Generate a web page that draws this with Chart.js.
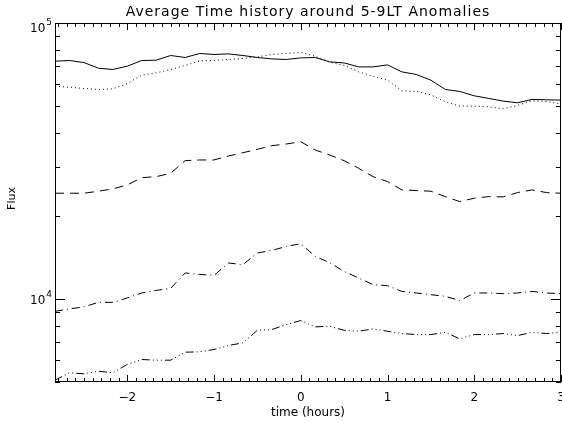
<!DOCTYPE html>
<html>
<head>
<meta charset="utf-8">
<script src="https://cdn.jsdelivr.net/npm/chart.js@4/dist/chart.umd.min.js"></script>
<style>
    html, body { margin: 0; padding: 0; background: #fff; }
    canvas { display: block; }
</style>
</head>
<body>
<canvas id="chartFlux" width="562" height="424"></canvas>
<script>
// time axis (hours, 10 minute steps)
var hours = [-2.833, -2.667, -2.5, -2.333, -2.167, -2, -1.833, -1.667, -1.5, -1.333, -1.167, -1,
    -0.833, -0.667, -0.5, -0.333, -0.167, 0, 0.167, 0.333, 0.5, 0.667, 0.833, 1,
    1.167, 1.333, 1.5, 1.667, 1.833, 2, 2.167, 2.333, 2.5, 2.667, 2.833, 3];

var fluxSolid = [72700, 73130, 71910, 68580, 67840, 69740, 73130, 73310, 76240, 74990, 77530, 76900,
    77270, 76240, 74990, 74100, 73750, 74750, 74990, 72280, 71680, 69330, 69330, 70500,
    66490, 65070, 62050, 57420, 56490, 54460, 53300, 52110, 51390, 52860, 52680, 52550];

var fluxDotted = [59020, 58530, 57900, 57420, 57710, 60370, 64700, 65950, 67840, 70150, 72890, 73130,
    73750, 74370, 75370, 76900, 77530, 78170, 75800, 72100, 70150, 66490, 64170, 62050,
    56770, 56490, 54910, 51810, 49980, 49980, 49700, 48880, 50280, 52240, 51980, 50830];

var fluxDashed = [24160, 24160, 24160, 24570, 25050, 25890, 27510, 27740, 28540, 31700, 31890, 31890,
    32970, 33880, 34850, 35920, 36430, 37140, 34650, 33240, 31700, 29760, 27740, 26620,
    24840, 24700, 24570, 23490, 22530, 23180, 23490, 23430, 24290, 24840, 24290, 24160];

var fluxDashDot = [9020, 9200, 9360, 9720, 9720, 10080, 10510, 10740, 10920, 12420, 12270, 12170,
    13500, 13310, 14670, 14990, 15500, 15850, 14260, 13530, 12580, 11910, 11270, 11170,
    10650, 10510, 10360, 10220, 9860, 10510, 10510, 10450, 10510, 10650, 10510, 10450];

var fluxDashDot3 = [5077, 5401, 5355, 5472, 5401, 5787, 6033, 5998, 5998, 6411, 6433, 6557,
    6779, 6933, 7700, 7745, 8075, 8350, 7921, 7960, 7700, 7636, 7789, 7636,
    7490, 7427, 7427, 7570, 7169, 7427, 7427, 7490, 7365, 7570, 7490, 7570];

var xTickValues = [-2, -1, 0, 1, 2, 3];
var xTickLabels = ['\u22122', '\u22121', '0', '1', '2', '3'];
var yTickValues = [10000, 100000];
var yTickExps = ['4', '5'];

var titleText = 'Average Time history around 5-9LT Anomalies';
var xTitle = 'time (hours)';
var yTitle = 'Flux';

function toPoints(values) {
    var pts = [];
    for (var i = 0; i < hours.length; i++) {
        pts.push({x: hours[i], y: values[i]});
    }
    return pts;
}

function lineSet(values, dash) {
    return {
        data: toPoints(values),
        borderColor: '#000',
        borderWidth: 1,
        borderDash: dash,
        pointRadius: 0,
        tension: 0,
        fill: false
    };
}

// IDL style frame: inward ticks on all four sides, labels drawn by hand
var idlAxes = {
    id: 'idlAxes',
    afterDraw: function (chart) {
        var ctx = chart.ctx;
        var a = chart.chartArea;
        var xs = chart.scales.x;
        var ys = chart.scales.y;
        var i, px, py, len;

        ctx.save();
        ctx.strokeStyle = '#000';
        ctx.lineWidth = 1;
        ctx.strokeRect(a.left + 0.5, a.top + 0.5, a.right - a.left - 1, a.bottom - a.top - 1);

        ctx.beginPath();
        for (i = -28; i <= 30; i++) {
            px = Math.round(xs.getPixelForValue(i / 10)) + 0.5;
            len = (i % 10 === 0) ? 7 : 4;
            ctx.moveTo(px, a.bottom);
            ctx.lineTo(px, a.bottom - len);
            ctx.moveTo(px, a.top);
            ctx.lineTo(px, a.top + len);
        }
        for (var dec = 1000; dec <= 100000; dec *= 10) {
            for (var m = 1; m <= 9; m++) {
                var v = dec * m;
                if (v < ys.min || v > ys.max) continue;
                py = Math.round(ys.getPixelForValue(v)) + 0.5;
                len = (m === 1) ? 10 : 5;
                ctx.moveTo(a.left, py);
                ctx.lineTo(a.left + len, py);
                ctx.moveTo(a.right, py);
                ctx.lineTo(a.right - len, py);
            }
        }
        ctx.stroke();

        ctx.fillStyle = '#000';
        ctx.font = '12px "DejaVu Sans"';
        ctx.textAlign = 'center';
        ctx.textBaseline = 'alphabetic';
        for (i = 0; i < xTickValues.length; i++) {
            px = xs.getPixelForValue(xTickValues[i]);
            ctx.fillText(xTickLabels[i], px, a.bottom + 19);
        }

        for (i = 0; i < yTickValues.length; i++) {
            py = ys.getPixelForValue(yTickValues[i]);
            var base = Math.max(py + 5, a.top + 9);
            ctx.textAlign = 'right';
            ctx.font = '9px "DejaVu Sans"';
            var expW = ctx.measureText(yTickExps[i]).width;
            ctx.fillText(yTickExps[i], a.left - 3, base - 7);
            ctx.font = '12px "DejaVu Sans"';
            ctx.fillText('10', a.left - 4 - expW, base);
        }

        ctx.textAlign = 'center';
        ctx.font = '12px "DejaVu Sans"';
        ctx.fillText(xTitle, (a.left + a.right) / 2, a.bottom + 34);

        ctx.save();
        ctx.translate(15, (a.top + a.bottom) / 2 - 4);
        ctx.rotate(-Math.PI / 2);
        ctx.font = '11px "DejaVu Sans"';
        ctx.fillText(yTitle, 0, 0);
        ctx.restore();

        ctx.font = '14px "DejaVu Sans"';
        ctx.letterSpacing = '1px';
        ctx.fillText(titleText, (a.left + a.right) / 2, 16);
        ctx.restore();
    }
};

var ctxFlux = document.getElementById('chartFlux').getContext('2d');
var chartFlux = new Chart(ctxFlux, {
    type: 'line',
    data: {
        datasets: [
            lineSet(fluxSolid, []),
            lineSet(fluxDotted, [1, 3]),
            lineSet(fluxDashed, [9, 6]),
            lineSet(fluxDashDot, [8, 4, 1, 4]),
            lineSet(fluxDashDot3, [8, 3, 1, 3, 1, 3, 1, 3])
        ]
    },
    options: {
        responsive: false,
        animation: false,
        devicePixelRatio: 1,
        layout: {
            padding: {left: 55, right: 1, top: 23, bottom: 42}
        },
        scales: {
            x: {type: 'linear', min: -2.833, max: 3, display: false},
            y: {type: 'logarithmic', min: 5000, max: 100000, display: false}
        },
        plugins: {
            legend: {display: false},
            tooltip: {enabled: false}
        }
    },
    plugins: [idlAxes]
});
</script>
</body>
</html>
